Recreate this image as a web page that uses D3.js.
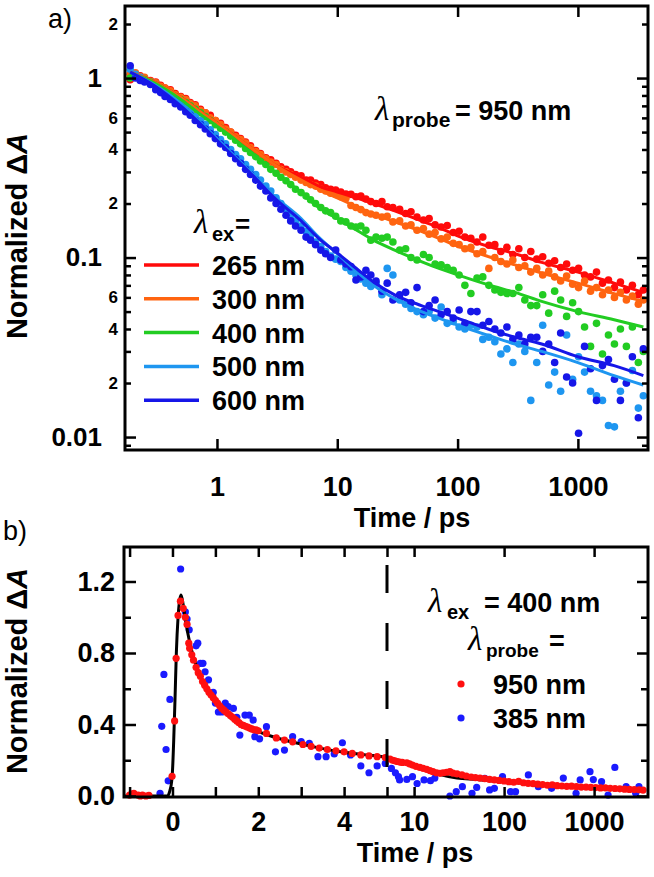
<!DOCTYPE html>
<html>
<head>
<meta charset="utf-8">
<script src="https://cdn.jsdelivr.net/npm/d3@7"></script>
<style>
body { margin: 0; background: #fff; }
svg { font-family: "Liberation Sans", Arial, sans-serif; font-weight: bold; }
.tick line { stroke: #000; stroke-width: 2.5; }
.domain { display: none; }
.lam { font-family: "Liberation Serif", "DejaVu Serif", serif; font-style: italic; font-weight: normal; }
</style>
</head>
<body>
<script>
// ---------- panel a data (log-log decays, probe 950 nm) ----------
const seriesNames = ["265 nm", "300 nm", "400 nm", "500 nm", "600 nm"];
const seriesColors = ["#ff0a0a", "#ff6410", "#22cc22", "#1e96f0", "#1616e8"];

const timesA = [0.19, 0.21, 0.23, 0.25, 0.28, 0.31, 0.34, 0.37, 0.41, 0.45, 0.5, 0.55, 0.6, 0.66, 0.73, 0.8, 0.88, 0.97,
  1.07, 1.18, 1.3, 1.43, 1.57, 1.73, 1.9, 2.1, 2.3, 2.55, 2.8, 3.1, 3.4, 3.75, 4.1, 4.5, 5.0, 5.5, 6.0, 6.6, 7.3, 8.0, 8.8, 9.7,
  10.7, 11.8, 13, 14.3, 15.7, 17.3, 19,
  21, 23.5, 26, 29, 33, 37, 41, 46, 52, 58, 65, 73, 82, 92, 103, 115, 129, 145, 162, 182, 204, 229, 257, 288, 323, 362, 406,
  455, 510, 572, 641, 719, 806, 904, 1013, 1136, 1274, 1428, 1601, 1795, 2013, 2257, 2530, 2837, 3181, 3500];

const dots265 = [0.98, 1.06, 1.03, 1.0, 0.97, 0.95, 0.91, 0.88, 0.86, 0.82, 0.79, 0.77, 0.73, 0.71, 0.67, 0.64, 0.62, 0.58,
  0.56, 0.53, 0.5, 0.48, 0.46, 0.44, 0.42, 0.395, 0.38, 0.36, 0.35, 0.335, 0.32, 0.31, 0.3, 0.29, 0.285, 0.27, 0.27, 0.26,
  0.255, 0.245, 0.24, 0.238, 0.232, 0.226, 0.225, 0.218, 0.22, 0.212, 0.205,
  0.2, 0.205, 0.192, 0.19, 0.186, 0.176, 0.18, 0.168, 0.162, 0.165, 0.152, 0.148, 0.151, 0.138, 0.14, 0.13, 0.128, 0.122,
  0.13, 0.117, 0.118, 0.108, 0.114, 0.104, 0.112, 0.1, 0.108, 0.098, 0.101, 0.093, 0.096, 0.088, 0.092, 0.085, 0.087, 0.08,
  0.078, 0.083, 0.072, 0.075, 0.068, 0.073, 0.066, 0.07, 0.062, 0.066];
const dots300 = [1.05, 1.07, 1.02, 1.01, 0.96, 0.94, 0.9, 0.88, 0.85, 0.81, 0.78, 0.76, 0.72, 0.7, 0.66, 0.64, 0.6, 0.58,
  0.55, 0.52, 0.5, 0.47, 0.455, 0.435, 0.41, 0.39, 0.375, 0.355, 0.34, 0.33, 0.31, 0.3, 0.29, 0.28, 0.27, 0.262, 0.255, 0.25,
  0.24, 0.235, 0.228, 0.225, 0.218, 0.214, 0.195, 0.19, 0.185, 0.178, 0.175,
  0.172, 0.168, 0.17, 0.158, 0.16, 0.15, 0.152, 0.142, 0.145, 0.135, 0.138, 0.127, 0.13, 0.12, 0.118, 0.112, 0.114, 0.105,
  0.108, 0.087, 0.1, 0.095, 0.092, 0.097, 0.088, 0.09, 0.083, 0.087, 0.08, 0.084, 0.078, 0.074, 0.079, 0.071, 0.068, 0.074,
  0.065, 0.068, 0.062, 0.066, 0.06, 0.064, 0.058, 0.061, 0.055, 0.058];
const dots400 = [1.0, 1.04, 1.0, 0.98, 0.95, 0.91, 0.88, 0.85, 0.82, 0.79, 0.76, 0.73, 0.7, 0.67, 0.64, 0.61, 0.58, 0.55,
  0.525, 0.5, 0.475, 0.45, 0.43, 0.405, 0.385, 0.365, 0.345, 0.33, 0.31, 0.295, 0.28, 0.268, 0.255, 0.24, 0.23, 0.22, 0.21,
  0.2, 0.19, 0.182, 0.178, 0.17, 0.16, 0.158, 0.15, 0.148, 0.15, 0.142, 0.125,
  0.13, 0.128, 0.13, 0.122, 0.11, 0.112, 0.1, 0.097, 0.104, 0.1, 0.092, 0.091, 0.088, 0.085, 0.08, 0.07, 0.063, 0.077,
  0.078, 0.07, 0.066, 0.064, 0.063, 0.063, 0.068, 0.058, 0.054, 0.054, 0.062, 0.049, 0.065, 0.058, 0.047, 0.056, 0.05, 0.041,
  0.032, 0.043, 0.029, 0.037, 0.033, 0.04, 0.032, 0.041, 0.026, 0.03];
const dots500 = [1.12, 1.05, 1.01, 0.97, 0.93, 0.89, 0.86, 0.82, 0.79, 0.75, 0.72, 0.68, 0.65, 0.61, 0.58, 0.55, 0.515, 0.485,
  0.455, 0.43, 0.4, 0.375, 0.355, 0.33, 0.31, 0.29, 0.27, 0.25, 0.235, 0.215, 0.2, 0.185, 0.172, 0.16, 0.15, 0.14, 0.132,
  0.122, 0.115, 0.108, 0.102, 0.098, 0.095, 0.088, 0.084, 0.08, 0.076, 0.072, 0.069,
  0.072, 0.062, 0.087, 0.08, 0.058, 0.055, 0.052, 0.05, 0.048, 0.05, 0.046, 0.053, 0.043, 0.044, 0.041, 0.04, 0.042, 0.041,
  0.035, 0.036, 0.034, 0.029, 0.031, 0.026, 0.033, 0.03, 0.016, 0.026, 0.042, 0.0195, 0.023, 0.018, 0.037, 0.021, 0.028,
  0.023, 0.018, 0.017, 0.016, 0.0116, 0.0114, 0.018, 0.02, 0.0235, 0.0145, 0.017];
const dots600 = [1.17, 1.0, 0.97, 0.95, 0.92, 0.86, 0.83, 0.79, 0.76, 0.72, 0.69, 0.65, 0.62, 0.58, 0.55, 0.52, 0.49, 0.46,
  0.43, 0.41, 0.38, 0.355, 0.335, 0.31, 0.29, 0.27, 0.25, 0.235, 0.215, 0.2, 0.186, 0.172, 0.16, 0.15, 0.142, 0.13, 0.125,
  0.118, 0.11, 0.105, 0.1, 0.11, 0.097, 0.092, 0.089, 0.075, 0.078, 0.085, 0.08,
  0.074, 0.065, 0.072, 0.058, 0.062, 0.064, 0.056, 0.068, 0.05, 0.054, 0.058, 0.048, 0.05, 0.046, 0.051, 0.043, 0.05, 0.05,
  0.042, 0.044, 0.04, 0.038, 0.041, 0.035, 0.037, 0.033, 0.036, 0.036, 0.03, 0.033, 0.026, 0.038, 0.0216, 0.02, 0.0105,
  0.032, 0.024, 0.016, 0.025, 0.027, 0.021, 0.016, 0.02, 0.028, 0.0128, 0.031];

// fitted curves, read at these times
const fitTimesA = [0.19, 0.3, 0.5, 0.7, 1, 1.5, 2, 3, 5, 7, 10, 15, 20, 30, 50, 70, 100, 200, 300, 500, 1000, 2000, 3500];
const fit265 = [1.08, 0.95, 0.78, 0.66, 0.56, 0.46, 0.4, 0.33, 0.28, 0.25, 0.232, 0.213, 0.2, 0.182, 0.16, 0.147, 0.132, 0.113, 0.105, 0.094, 0.083, 0.072, 0.064];
const fit300 = [1.08, 0.95, 0.78, 0.66, 0.56, 0.46, 0.4, 0.33, 0.27, 0.24, 0.215, 0.19, 0.175, 0.158, 0.14, 0.128, 0.116, 0.099, 0.091, 0.082, 0.072, 0.063, 0.057];
const fit400 = [1.07, 0.94, 0.76, 0.64, 0.54, 0.44, 0.37, 0.3, 0.23, 0.19, 0.165, 0.14, 0.125, 0.11, 0.095, 0.087, 0.08, 0.069, 0.064, 0.057, 0.05, 0.045, 0.041];
const fit500 = [1.08, 0.92, 0.72, 0.58, 0.46, 0.35, 0.29, 0.22, 0.165, 0.13, 0.105, 0.082, 0.07, 0.059, 0.05, 0.046, 0.042, 0.036, 0.033, 0.03, 0.026, 0.022, 0.0195];
const fit600 = [1.08, 0.91, 0.7, 0.57, 0.45, 0.345, 0.285, 0.215, 0.16, 0.128, 0.106, 0.085, 0.073, 0.062, 0.054, 0.05, 0.046, 0.039, 0.036, 0.033, 0.028, 0.025, 0.022];

const xTicksA = [1, 10, 100, 1000];
const yMajorA = [1, 0.1, 0.01];
const yMinorLabelsA = [2, 0.6, 0.4, 0.2, 0.06, 0.04, 0.02];

// ---------- panel b data (ex 400 nm) ----------
const probe950T = [-1.0, -0.95, -0.9, -0.8, -0.75, -0.7, -0.62, -0.55, -0.01, 0.05, 0.085, 0.13, 0.185, 0.25, 0.3, 0.34, 0.38, 0.4,
  0.45, 0.49, 0.55, 0.6, 0.65, 0.7, 0.75, 0.8, 0.85, 0.9, 0.95, 1.0, 1.05, 1.1, 1.15, 1.2, 1.25, 1.3, 1.35, 1.4, 1.45, 1.5,
  1.55, 1.6, 1.65, 1.7, 1.75, 1.8, 1.85, 1.9, 1.95, 2.0, 2.19, 2.42, 2.61, 2.8, 3.04, 3.23, 3.42, 3.61, 3.81, 4.0, 4.19, 4.39,
  4.58, 4.77, 4.96, 5.4, 5.8, 6.1, 6.5, 6.9, 7.4, 8.3, 8.9, 9.6, 10.5, 11.6, 12.6, 13.8, 15, 16.2, 17.8, 19.4,
  21, 23, 25, 27, 30, 34, 38, 43, 48, 54, 61, 69, 78, 88, 100, 113, 128, 145, 164, 185, 210, 237, 268, 303, 343, 388, 439,
  497, 562, 636, 720, 814, 921, 1042, 1179, 1334, 1509, 1707, 1931, 2185, 2472, 2797, 3164, 3500];
const probe950V = [0.005, 0.01, 0.015, 0.005, 0.0, 0.005, 0.0, 0.003, 0.11, 0.42, 0.77, 1.01, 1.09, 1.05, 1.0, 0.96, 0.855, 0.826,
  0.79, 0.76, 0.72, 0.69, 0.67, 0.64, 0.62, 0.6, 0.58, 0.565, 0.55, 0.535, 0.52, 0.505, 0.49, 0.48, 0.47, 0.46, 0.45, 0.44,
  0.43, 0.42, 0.41, 0.4, 0.395, 0.39, 0.385, 0.38, 0.375, 0.37, 0.37, 0.365, 0.35, 0.325, 0.313, 0.303, 0.288, 0.278, 0.268,
  0.26, 0.253, 0.247, 0.238, 0.23, 0.224, 0.22, 0.215, 0.207, 0.2, 0.197, 0.193, 0.19, 0.188, 0.186, 0.18, 0.173, 0.166,
  0.16, 0.155, 0.149, 0.142, 0.136, 0.13, 0.127,
  0.13, 0.133, 0.136, 0.128, 0.124, 0.118, 0.112, 0.106, 0.103, 0.1, 0.097, 0.093, 0.09, 0.087, 0.084, 0.08, 0.077, 0.082,
  0.074, 0.071, 0.069, 0.066, 0.064, 0.06, 0.063, 0.058, 0.056, 0.054, 0.055, 0.052, 0.05, 0.05, 0.048, 0.047, 0.045, 0.046,
  0.043, 0.042, 0.04, 0.038, 0.037, 0.036, 0.035, 0.033];
const probe385T = [-0.29, -0.25, -0.2, -0.15, -0.1, -0.06, 0.19, 0.3, 0.34, 0.39, 0.55, 0.59, 0.65, 0.71, 0.76, 0.84, 0.92, 0.95,
  1.0, 1.07, 1.15, 1.23, 1.3, 1.42, 1.5, 1.57, 1.69, 1.79, 1.88, 1.92, 2.03, 2.19, 2.4, 2.61, 2.8, 3.0, 3.19, 3.39, 3.58, 3.77,
  3.96, 4.15, 4.39, 4.58, 4.77, 4.96, 5.6, 6.2, 6.7, 6.9, 8.3, 9.6, 10.8, 12.9, 15.2, 17, 25, 29.4, 34.4, 44, 49.6, 61, 69,
  78, 96, 118, 134, 186, 240, 337, 455, 630, 700, 900, 980, 1210, 1430, 1700, 2270, 2900, 3150];
const probe385V = [0.015, 0.39, 0.68, 0.26, 0.085, 0.54, 1.27, 1.03, 0.99, 0.93, 0.84, 0.855, 0.742, 0.742, 0.695, 0.65, 0.575,
  0.58, 0.52, 0.47, 0.47, 0.52, 0.5, 0.49, 0.44, 0.341, 0.453, 0.453, 0.425, 0.332, 0.32, 0.388, 0.247, 0.257, 0.332, 0.304,
  0.294, 0.22, 0.22, 0.235, 0.298, 0.23, 0.168, 0.13, 0.168, 0.182, 0.154, 0.13, 0.108, 0.09, 0.093, 0.108, 0.07, 0.09, 0.086,
  0.1, 0.0, 0.024, 0.052, 0.015, 0.048, 0.099, 0.034, 0.043, 0.108, 0.024, 0.024, 0.118, 0.052, 0.043, 0.1, 0.015, 0.09,
  0.136, 0.092, 0.08, 0.005, 0.16, 0.052, 0.015, 0.052];
const fitBT = [-1.13, -0.3, -0.12, -0.06, -0.02, 0, 0.03, 0.06, 0.09, 0.13, 0.17, 0.2, 0.25, 0.3, 0.4, 0.5, 0.6, 0.8, 1.0, 1.25,
  1.5, 2.0, 2.5, 3.0, 3.5, 4.0, 4.5, 5, 6, 7, 8, 10, 12, 15, 20, 30, 50, 84, 200, 500, 1000, 2000, 3500];
const fitBV = [0, 0, 0, 0.03, 0.08, 0.14, 0.32, 0.55, 0.8, 1.0, 1.1, 1.125, 1.07, 0.99, 0.86, 0.77, 0.7, 0.6, 0.53, 0.47,
  0.42, 0.36, 0.32, 0.29, 0.265, 0.245, 0.23, 0.215, 0.198, 0.19, 0.183, 0.168, 0.155, 0.14, 0.118, 0.1, 0.092, 0.082, 0.07,
  0.056, 0.048, 0.04, 0.035];

const xLinTicksB = [-1, 0, 1, 2, 3, 4, 5];
const xLinLabelsB = [0, 2, 4];
const xLogTicksB = [10, 100, 1000];
const yMajorB = [0, 0.4, 0.8, 1.2];
const yMinorB = [0.2, 0.6, 1.0];

// ---------- drawing ----------
const W = 654, H = 877;
const svg = d3.select("body").append("svg").attr("width", W).attr("height", H);

const A = {left: 125, right: 648, top: 6, bottom: 450};
const xA = d3.scaleLog().domain([0.172, 3826]).range([A.left, A.right]);
const yA = d3.scaleLog().domain([0.00847, 2.52]).range([A.bottom, A.top]);

svg.append("clipPath").attr("id", "clipA").append("rect")
  .attr("x", A.left).attr("y", A.top).attr("width", A.right - A.left).attr("height", A.bottom - A.top);

const gA = svg.append("g").attr("clip-path", "url(#clipA)");
const dotsA = [dots265, dots300, dots400, dots500, dots600];
const fitsA = [fit265, fit300, fit400, fit500, fit600];

dotsA.forEach((vals, k) => {
  gA.append("g").selectAll("circle")
    .data(timesA.map((t, i) => [t, vals[i]]))
    .join("circle")
    .attr("cx", d => xA(d[0]))
    .attr("cy", d => yA(d[1]))
    .attr("r", 3.8)
    .attr("fill", seriesColors[k]);
});

const lineA = d3.line().x(d => xA(d[0])).y(d => yA(d[1])).curve(d3.curveMonotoneX);
fitsA.forEach((vals, k) => {
  gA.append("path")
    .datum(fitTimesA.map((t, i) => [t, vals[i]]))
    .attr("d", lineA)
    .attr("fill", "none")
    .attr("stroke", seriesColors[k])
    .attr("stroke-width", 3);
});

// axes a
const minorA = yA.ticks().filter(v => !yMajorA.some(m => Math.abs(m - v) < 1e-9));
const isLabelled = v => yMinorLabelsA.some(m => Math.abs(m - v) / m < 1e-6);

svg.append("g").attr("transform", `translate(0,${A.bottom})`)
  .call(d3.axisBottom(xA).tickValues(xTicksA).tickSize(-11).tickPadding(27).tickFormat(d3.format("d")))
  .call(g => g.selectAll("text").attr("font-size", 27));
svg.append("g").attr("transform", `translate(0,${A.top})`)
  .call(d3.axisTop(xA).tickValues(xTicksA).tickSize(-11).tickFormat(""));
svg.append("g").attr("transform", `translate(${A.left},0)`)
  .call(d3.axisLeft(yA).tickValues(yMajorA).tickSize(-11).tickPadding(23).tickFormat(d => d3.format("")(d)))
  .call(g => g.selectAll("text").attr("font-size", 26));
svg.append("g").attr("transform", `translate(${A.left},0)`)
  .call(d3.axisLeft(yA).tickValues(minorA).tickSize(-6).tickPadding(7)
    .tickFormat(d => isLabelled(d) ? String(Math.round(d / Math.pow(10, Math.floor(Math.log10(d) + 1e-9)))) : ""))
  .call(g => g.selectAll("text").attr("font-size", 17));
svg.append("g").attr("transform", `translate(${A.right},0)`)
  .call(d3.axisRight(yA).tickValues(yMajorA).tickSize(-11).tickFormat(""));
svg.append("g").attr("transform", `translate(${A.right},0)`)
  .call(d3.axisRight(yA).tickValues(minorA).tickSize(-6).tickFormat(""));

svg.append("rect").attr("x", A.left).attr("y", A.top)
  .attr("width", A.right - A.left).attr("height", A.bottom - A.top)
  .attr("fill", "none").attr("stroke", "#000").attr("stroke-width", 3);

// legend a
const legA = svg.append("g");
legA.append("text").attr("class", "lam").attr("x", 194).attr("y", 233).attr("font-size", 33).text("λ");
legA.append("text").attr("x", 212).attr("y", 241).attr("font-size", 20).text("ex");
legA.append("text").attr("x", 235).attr("y", 233).attr("font-size", 26).text("=");
seriesNames.forEach((name, i) => {
  const yy = 265 + i * 33.8;
  legA.append("line").attr("x1", 144).attr("x2", 199).attr("y1", yy).attr("y2", yy)
    .attr("stroke", seriesColors[i]).attr("stroke-width", 3.5);
  legA.append("text").attr("x", 212).attr("y", yy + 10).attr("font-size", 27).text(name);
});

svg.append("text").attr("class", "lam").attr("x", 375).attr("y", 120).attr("font-size", 33).text("λ");
svg.append("text").attr("x", 392).attr("y", 127).attr("font-size", 21).text("probe");
svg.append("text").attr("x", 455).attr("y", 120).attr("font-size", 27).text("= 950 nm");

svg.append("text").attr("x", 48).attr("y", 28).attr("font-size", 27).attr("font-weight", "normal").text("a)");
svg.append("text").attr("x", 412).attr("y", 527).attr("text-anchor", "middle")
  .attr("font-size", 27).text("Time / ps");

function yTitle(cy) {
  const t = svg.append("text").attr("transform", `translate(27,${cy}) rotate(-90)`)
    .attr("text-anchor", "middle").attr("font-size", 29);
  t.append("tspan").text("Normalized Δ");
  t.append("tspan").attr("font-style", "italic").text("A");
}
yTitle(236);

// ---------- panel b ----------
const B = {left: 124, right: 648, top: 547, bottom: 797, brk: 387};
const xBLin = d3.scaleLinear().domain([-1.13, 5]).range([B.left, B.brk]);
const xBLog = d3.scaleLog().domain([5, 3970]).range([B.brk, B.right]);
const xB = t => (t <= 5 ? xBLin(t) : xBLog(t));
const yB = d3.scaleLinear().domain([-0.0056, 1.393]).range([B.bottom, B.top]);

svg.append("g").selectAll("circle")
  .data(probe385T.map((t, i) => [t, probe385V[i]]))
  .join("circle")
  .attr("cx", d => xB(d[0])).attr("cy", d => yB(d[1])).attr("r", 3.6).attr("fill", "#1a1aff");

svg.append("path")
  .datum(fitBT.map((t, i) => [t, fitBV[i]]))
  .attr("d", d3.line().x(d => xB(d[0])).y(d => yB(d[1])).curve(d3.curveMonotoneX))
  .attr("fill", "none").attr("stroke", "#000").attr("stroke-width", 3);

svg.append("g").selectAll("circle")
  .data(probe950T.map((t, i) => [t, probe950V[i]]))
  .join("circle")
  .attr("cx", d => xB(d[0])).attr("cy", d => yB(d[1])).attr("r", 3.6).attr("fill", "#ff1010");

svg.append("line").attr("x1", B.brk).attr("x2", B.brk).attr("y1", B.top).attr("y2", B.bottom)
  .attr("stroke", "#000").attr("stroke-width", 3)
  .attr("stroke-dasharray", "28,30").attr("stroke-dashoffset", 40);

const fmtB = d => (xLinLabelsB.includes(d) ? String(d) : "");
svg.append("g").attr("transform", `translate(0,${B.bottom})`)
  .call(d3.axisBottom(xBLin).tickValues(xLinTicksB).tickSize(-10).tickPadding(15).tickFormat(fmtB))
  .call(g => g.selectAll("text").attr("font-size", 27));
svg.append("g").attr("transform", `translate(0,${B.bottom})`)
  .call(d3.axisBottom(xBLog).tickValues(xLogTicksB).tickSize(-10).tickPadding(15).tickFormat(d3.format("d")))
  .call(g => g.selectAll("text").attr("font-size", 27));
svg.append("g").attr("transform", `translate(0,${B.top})`)
  .call(d3.axisTop(xBLin).tickValues(xLinTicksB).tickSize(-10).tickFormat(""));
svg.append("g").attr("transform", `translate(0,${B.top})`)
  .call(d3.axisTop(xBLog).tickValues(xLogTicksB).tickSize(-10).tickFormat(""));
svg.append("g").attr("transform", `translate(${B.left},0)`)
  .call(d3.axisLeft(yB).tickValues(yMajorB).tickSize(-12).tickPadding(9).tickFormat(d3.format(".1f")))
  .call(g => g.selectAll("text").attr("font-size", 27));
svg.append("g").attr("transform", `translate(${B.left},0)`)
  .call(d3.axisLeft(yB).tickValues(yMinorB).tickSize(-7).tickFormat(""));
svg.append("g").attr("transform", `translate(${B.right},0)`)
  .call(d3.axisRight(yB).tickValues(yMajorB).tickSize(-11).tickFormat(""));
svg.append("g").attr("transform", `translate(${B.right},0)`)
  .call(d3.axisRight(yB).tickValues(yMinorB).tickSize(-7).tickFormat(""));

svg.append("rect").attr("x", B.left).attr("y", B.top)
  .attr("width", B.right - B.left).attr("height", B.bottom - B.top)
  .attr("fill", "none").attr("stroke", "#000").attr("stroke-width", 3);

// legend b
svg.append("text").attr("class", "lam").attr("x", 428).attr("y", 612).attr("font-size", 33).text("λ");
svg.append("text").attr("x", 447).attr("y", 619).attr("font-size", 20).text("ex");
svg.append("text").attr("x", 484).attr("y", 612).attr("font-size", 27).text("= 400 nm");
svg.append("text").attr("class", "lam").attr("x", 468).attr("y", 650).attr("font-size", 33).text("λ");
svg.append("text").attr("x", 486).attr("y", 657).attr("font-size", 19).text("probe");
svg.append("text").attr("x", 549).attr("y", 650).attr("font-size", 27).text("=");
const legB = [["950 nm", "#ff1010", 684], ["385 nm", "#1a1aff", 718]];
legB.forEach(([name, col, yy]) => {
  svg.append("circle").attr("cx", 461).attr("cy", yy).attr("r", 3.6).attr("fill", col);
  svg.append("text").attr("x", 493).attr("y", yy + 10).attr("font-size", 27).text(name);
});

svg.append("text").attr("x", 3).attr("y", 540).attr("font-size", 27).attr("font-weight", "normal").text("b)");
svg.append("text").attr("x", 415).attr("y", 862).attr("text-anchor", "middle").attr("font-size", 27).text("Time / ps");
yTitle(671);
</script>
</body>
</html>
